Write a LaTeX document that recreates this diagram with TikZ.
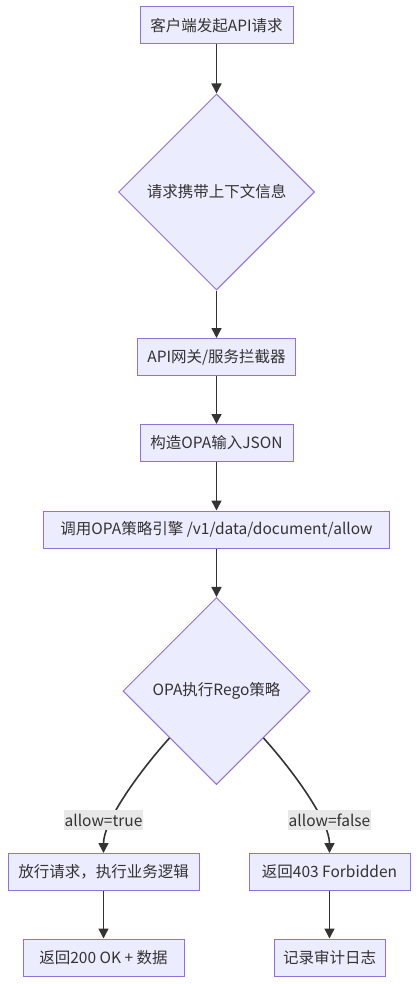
\documentclass[tikz,border=0pt]{standalone}
\usepackage{fontspec}
\setmainfont{Noto Sans CJK SC}
\usetikzlibrary{shapes.geometric,arrows.meta}

\definecolor{boxfill}{HTML}{ECECFF}
\definecolor{boxline}{HTML}{9370DB}
\definecolor{ink}{HTML}{333333}
\definecolor{lblfill}{HTML}{E8E8E8}

\tikzset{
    stepbox/.style={draw=boxline, fill=boxfill, line width=1pt, minimum height=37pt,
        inner sep=0pt, text=ink, font=\fontsize{15.5}{18}\selectfont},
    choice/.style={diamond, aspect=1, draw=boxline, fill=boxfill, line width=1pt,
        inner sep=0pt, text=ink, font=\fontsize{15.5}{18}\selectfont},
    flow/.style={draw=ink, line width=1.6pt, -{Triangle[length=10pt,width=10pt]}},
    edgelbl/.style={fill=lblfill, text=ink, inner xsep=1pt, minimum height=20pt,
        font=\fontsize{15.5}{18}\selectfont}
}

\begin{document}
\begin{tikzpicture}[x=1pt,y=1pt]
            \useasboundingbox (0,0) rectangle (418,-984);

            % nodes
            \node [stepbox, minimum width=153pt] (client) at (216.5,-25.5) {客户端发起API请求};
            \node [choice, minimum width=196pt, minimum height=196pt] (context) at (216.5,-192) {请求携带上下文信息};
            \node [stepbox, minimum width=158pt] (gateway) at (216.5,-357) {API网关/服务拦截器};
            \node [stepbox, minimum width=153pt] (input) at (216.5,-443) {构造OPA输入JSON};
            \node [stepbox, minimum width=346pt] (engine) at (216.5,-529.5) {调用OPA策略引擎 /v1/data/document/allow};
            \node [choice, minimum width=187pt, minimum height=187pt] (rego) at (216.5,-691) {OPA执行Rego策略};
            \node [stepbox, minimum width=191pt] (allow) at (103.5,-872) {放行请求，执行业务逻辑};
            \node [stepbox, minimum width=161pt] (deny) at (329.5,-872) {返回403 Forbidden};
            \node [stepbox, minimum width=161pt] (ok) at (103.5,-957.5) {返回200 OK + 数据};
            \node [stepbox, minimum width=111pt] (audit) at (329.5,-957.5) {记录审计日志};

            % arrows
            \draw [flow] (client) -- (context);
            \draw [flow] (context) -- (gateway);
            \draw [flow] (gateway) -- (input);
            \draw [flow] (input) -- (engine);
            \draw [flow] (engine) -- (rego);
            \draw [flow] (rego.south west) to [out=228, in=90, out looseness=0.9, in looseness=0.6] (allow.north);
            \draw [flow] (rego.south east) to [out=-48, in=90, out looseness=0.9, in looseness=0.6] (deny.north);
            \draw [flow] (allow) -- (ok);
            \draw [flow] (deny) -- (audit);

            % labels
            \node [edgelbl] (lbltrue) at (103.5,-820) {allow=true};
            \node [edgelbl] (lblfalse) at (329.5,-820) {allow=false};
        \end{tikzpicture}
\end{document}
